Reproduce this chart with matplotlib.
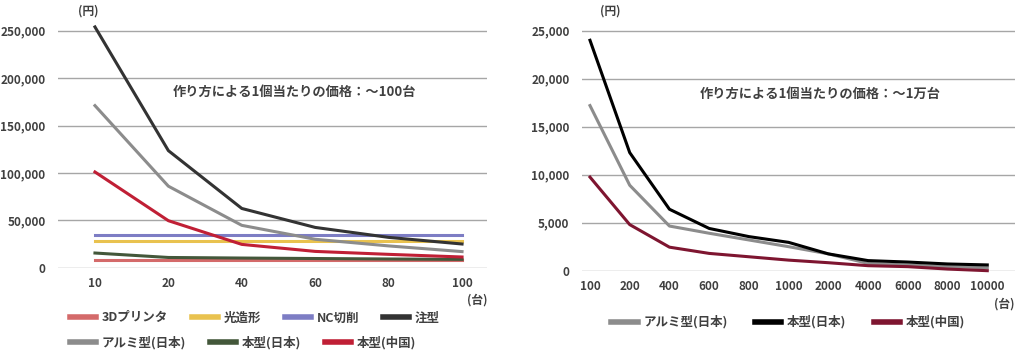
import matplotlib.pyplot as plt
from matplotlib.ticker import FuncFormatter

plt.rcParams['font.family'] = ['Noto Sans CJK JP', 'DejaVu Sans']
plt.rcParams['font.weight'] = 'bold'

# 左グラフ: ～100台
qty_small = ['10', '20', '40', '60', '80', '100']
printer_3d = [8000, 8000, 8000, 8000, 8000, 8000]
stereo = [28000, 28000, 28000, 28000, 28000, 28000]
nc_cut = [35000, 35000, 35000, 35000, 35000, 35000]
injection = [254000, 123500, 62500, 42500, 32000, 25000]
alumi_jp = [171000, 86000, 44700, 30000, 23000, 17000]
hon_jp = [15500, 10800, 10200, 9700, 9200, 8800]
hon_cn = [101000, 49600, 24600, 17200, 14100, 11300]

# 右グラフ: ～1万台
qty_large = ['100', '200', '400', '600', '800', '1000', '2000', '4000', '6000', '8000', '10000']
alumi_jp_l = [17200, 8900, 4650, 3900, 3200, 2500, 1750, 760, 590, 420, 310]
hon_jp_l = [24000, 12300, 6400, 4400, 3550, 2950, 1750, 1050, 900, 700, 600]
hon_cn_l = [9750, 4800, 2450, 1800, 1450, 1100, 830, 520, 420, 170, 0]

text_c = '#404040'
grid_c = '#a6a6a6'

fig = plt.figure(figsize=(10.24, 3.58), dpi=100)
ax1 = fig.add_axes([0.0566, 0.2522, 0.419, 0.7017])
ax2 = fig.add_axes([0.5684, 0.2439, 0.4229, 0.7106])


def style(ax, ymax, step, xlim):
    for s in ax.spines.values():
        s.set_visible(False)
    ax.set_ylim(0, ymax)
    ax.set_xlim(*xlim)
    ax.set_yticks(range(0, int(ymax), step))
    ax.yaxis.set_major_formatter(FuncFormatter(lambda v, p: f'{int(v):,}'))
    ax.grid(axis='y', color=grid_c, lw=1)
    ax.set_axisbelow(True)
    ax.tick_params(length=0, labelsize=8.5, colors=text_c, pad=9)
    ax.tick_params(axis='x', pad=7)


x1 = range(len(qty_small))
series1 = [
    (printer_3d, '3Dプリンタ', '#d46a6a'),
    (stereo, '光造形', '#e9c24f'),
    (nc_cut, 'NC切削', '#7d7dc4'),
    (injection, '注型', '#333333'),
    (alumi_jp, 'アルミ型(日本)', '#8c8c8c'),
    (hon_jp, '本型(日本)', '#43573a'),
    (hon_cn, '本型(中国)', '#c01f35'),
]
handles1 = []
for vals, name, col in series1:
    h, = ax1.plot(x1, vals, color=col, lw=2.2, label=name, clip_on=False)
    handles1.append(h)
ax1.set_xticks(list(x1))
ax1.set_xticklabels(qty_small)
style(ax1, 265000, 50000, (-0.504, 5.34))
ax1.text(0.55, 0.7, '作り方による1個当たりの価格：～100台', transform=ax1.transAxes,
         ha='center', va='center', fontsize=9.5, color=text_c)

x2 = range(len(qty_large))
series2 = [
    (alumi_jp_l, 'アルミ型(日本)', '#8c8c8c'),
    (hon_jp_l, '本型(日本)', '#000000'),
    (hon_cn_l, '本型(中国)', '#7e1530'),
]
handles2 = []
for vals, name, col in series2:
    h, = ax2.plot(x2, vals, color=col, lw=2.2, label=name, clip_on=False)
    handles2.append(h)
ax2.set_xticks(list(x2))
ax2.set_xticklabels(qty_large)
style(ax2, 26500, 5000, (-0.2, 10.7))
ax2.text(0.55, 0.695, '作り方による1個当たりの価格：～1万台', transform=ax2.transAxes,
         ha='center', va='center', fontsize=9.5, color=text_c)

# 単位ラベル
fig.text(0.086, 0.968, '(円)', ha='center', va='center', fontsize=8.5, color=text_c)
fig.text(0.596, 0.968, '(円)', ha='center', va='center', fontsize=8.5, color=text_c)
fig.text(0.466, 0.162, '(台)', ha='center', va='center', fontsize=8.5, color=text_c)
fig.text(0.981, 0.15, '(台)', ha='center', va='center', fontsize=8.5, color=text_c)

leg_kw = dict(frameon=False, fontsize=9, handlelength=2.1, handletextpad=0.45,
              borderpad=0, borderaxespad=0, labelcolor=text_c)
lg1 = fig.legend(handles=handles1[:4], loc='center left', ncol=4, columnspacing=1.9,
                 bbox_to_anchor=(0.068, 0.112), **leg_kw)
lg2 = fig.legend(handles=handles1[4:], loc='center left', ncol=3, columnspacing=1.9,
                 bbox_to_anchor=(0.068, 0.042), **leg_kw)
lg3 = fig.legend(handles=handles2, loc='center left', ncol=3, columnspacing=2.2,
                 bbox_to_anchor=(0.597, 0.1), **leg_kw)
for lg in (lg1, lg2, lg3):
    for ln in lg.get_lines():
        ln.set_linewidth(4)

fig.savefig('out.png', dpi=100)
